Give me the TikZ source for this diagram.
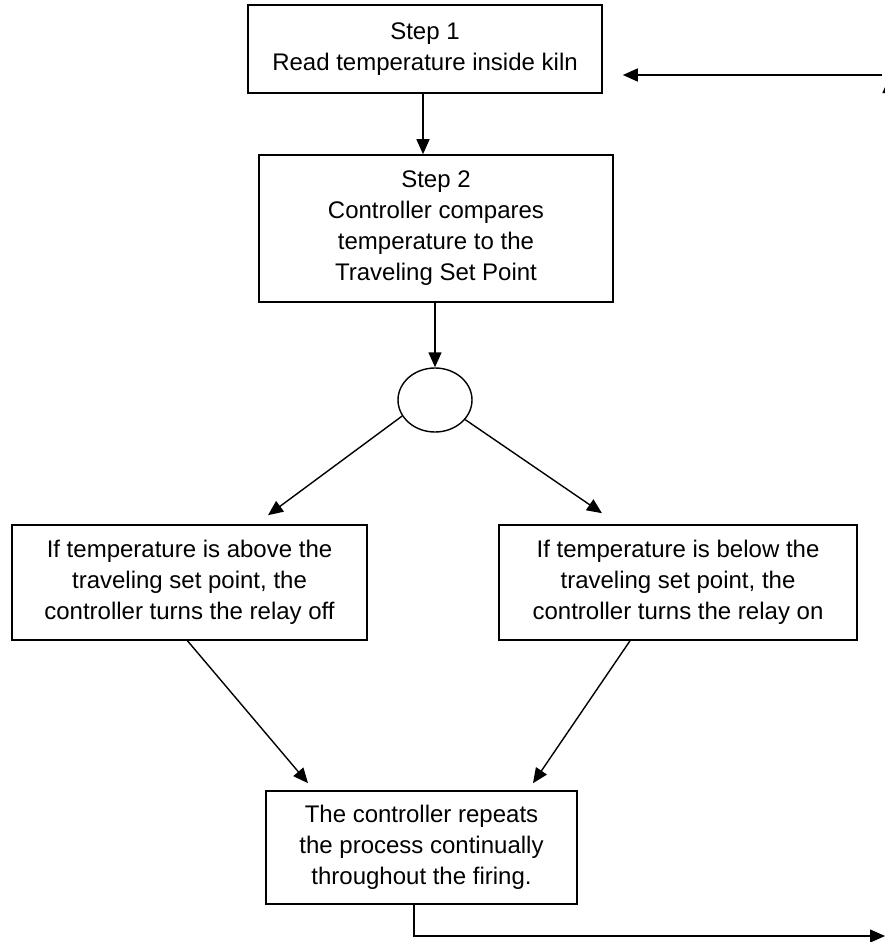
\documentclass[tikz,border=0pt]{standalone}
\usepackage{fontspec}
\setmainfont{Liberation Sans}
\usetikzlibrary{arrows.meta,shapes.geometric}
\tikzset{
  box/.style={draw, line width=1.6pt, rectangle, align=center, inner sep=0pt,
    font=\fontsize{24}{31}\selectfont},
  conn/.style={line width=1.4pt, -{Triangle[length=15pt,width=13pt]}},
  plain/.style={line width=1.4pt},
}
\begin{document}
\begin{tikzpicture}[x=1pt,y=-1pt]
\useasboundingbox (0,0) rectangle (885,942);
\clip (0,0) rectangle (885,942);
\fill[white] (0,0) rectangle (885,942);

\node[box, minimum width=354pt, minimum height=88pt] (s1) at (425,49)
  {Step 1\\Read temperature inside kiln};
\node[box, minimum width=354pt, minimum height=147pt] (s2) at (436,228.5)
  {Step 2\\Controller compares\\temperature to the\\Traveling Set Point};
\node[draw, ellipse, line width=1.4pt, minimum width=74pt, minimum height=64pt, inner sep=0pt] (e) at (435,400) {};
\node[box, minimum width=355pt, minimum height=115pt] (l) at (189.5,582.5)
  {If temperature is above the\\traveling set point, the\\controller turns the relay off};
\node[box, minimum width=358pt, minimum height=115pt] (r) at (678,582.5)
  {If temperature is below the\\traveling set point, the\\controller turns the relay on};
\node[box, minimum width=311pt, minimum height=113pt] (b) at (421.5,847.5)
  {The controller repeats\\the process continually\\throughout the firing.};

\coordinate (inR) at (882,75);
\coordinate (outR) at (885,936);

\draw[conn] ([xshift=-2pt]s1.south) -- ([xshift=-2pt]s1.south |- s2.north);
\draw[conn] (e.north |- s2.south) -- (e.north);
\draw[conn] (e.206) -- ([xshift=78.5pt,yshift=9pt]l.north);
\draw[conn] (e.327) -- ([xshift=-76pt,yshift=11pt]r.north);
\draw[conn] ([xshift=-2pt]l.south) -- ([xshift=-113.5pt,yshift=7pt]b.north);
\draw[conn] ([xshift=-48pt]r.south) -- ([xshift=111.5pt,yshift=7pt]b.north);
\draw[conn] ([xshift=-7.5pt]b.south) |- (outR);
\draw[conn] (inR) -- ([xshift=20pt]inR -| s1.east);
\draw[conn] (889,160) -- (889,78);
\end{tikzpicture}
\end{document}
